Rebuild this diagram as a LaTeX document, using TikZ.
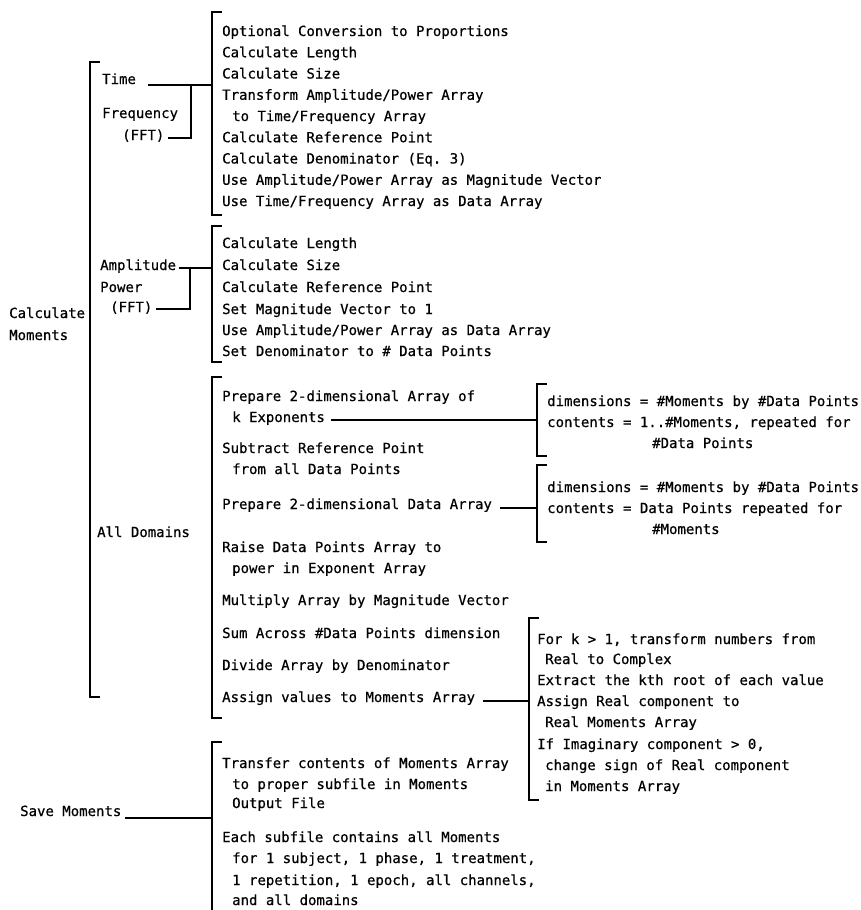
\documentclass[tikz,border=0pt]{standalone}
\usepackage{fontspec}
\setmonofont{DejaVu Sans Mono}[FakeBold=0.6]
\begin{document}
\begin{tikzpicture}[x=1pt,y=-1pt,
  txt/.style={anchor=base west, inner sep=0pt, font=\ttfamily\fontsize{14}{16}\selectfont},
  ln/.style={line width=1.1pt, line cap=rect}]
\useasboundingbox (0,0) rectangle (860,910);
\newcommand\mybrk[4]{\draw[ln] ({#1+#4},#2) -- (#1,#2) -- (#1,#3) -- ({#1+#4},#3);}
% brackets
\mybrk{90}{62}{697}{9}
\mybrk{212}{12}{215}{9}
\mybrk{212}{226}{362}{9}
\mybrk{212}{377}{718}{9}
\mybrk{537}{384}{456}{9}
\mybrk{537}{465}{542}{9}
\mybrk{529}{618}{800}{9}
\mybrk{212}{742}{915}{9}
% left labels
\node[txt] (calc) at (9,318) {Calculate};
\node[txt] (mom) at (9,340) {Moments};
\node[txt] (time) at (102,84) {Time};
\node[txt] (freq) at (102,118) {Frequency};
\node[txt] (fft1) at (122,140) {(FFT)};
\node[txt] (amp) at (100,270) {Amplitude};
\node[txt] (pow) at (100,292) {Power};
\node[txt] (fft2) at (110,312) {(FFT)};
\node[txt] (alld) at (97,537) {All Domains};
\node[txt] (save) at (20,816) {Save Moments};
% group 1
\node[txt] (a1) at (222,36) {Optional Conversion to Proportions};
\node[txt] (a2) at (222,57.25) {Calculate Length};
\node[txt] (a3) at (222,78.5) {Calculate Size};
\node[txt] (a4) at (222,99.75) {Transform Amplitude/Power Array};
\node[txt] (a5) at (232,121) {to Time/Frequency Array};
\node[txt] (a6) at (222,142.25) {Calculate Reference Point};
\node[txt] (a7) at (222,163.5) {Calculate Denominator (Eq. 3)};
\node[txt] (a8) at (222,184.75) {Use Amplitude/Power Array as Magnitude Vector};
\node[txt] (a9) at (222,206) {Use Time/Frequency Array as Data Array};
% group 2
\node[txt] (b1) at (222,248) {Calculate Length};
\node[txt] (b2) at (222,270) {Calculate Size};
\node[txt] (b3) at (222,292) {Calculate Reference Point};
\node[txt] (b4) at (222,314) {Set Magnitude Vector to 1};
\node[txt] (b5) at (222,335) {Use Amplitude/Power Array as Data Array};
\node[txt] (b6) at (222,356) {Set Denominator to \# Data Points};
% group 3
\node[txt] (c1) at (222,401) {Prepare 2-dimensional Array of};
\node[txt] (c2) at (232,422) {k Exponents};
\node[txt] (c3) at (222,453) {Subtract Reference Point};
\node[txt] (c4) at (232,474) {from all Data Points};
\node[txt] (c5) at (222,509) {Prepare 2-dimensional Data Array};
\node[txt] (c6) at (222,552) {Raise Data Points Array to};
\node[txt] (c7) at (232,573) {power in Exponent Array};
\node[txt] (c8) at (222,605) {Multiply Array by Magnitude Vector};
\node[txt] (c9) at (222,638) {Sum Across \#Data Points dimension};
\node[txt] (c10) at (222,670) {Divide Array by Denominator};
\node[txt] (c11) at (222,702) {Assign values to Moments Array};
% bracket A
\node[txt] (d1) at (547,406) {dimensions = \#Moments by \#Data Points};
\node[txt] (d2) at (547,427) {contents = 1..\#Moments, repeated for};
\node[txt] (d3) at (652,448) {\#Data Points};
% bracket B
\node[txt] (e1) at (547,492) {dimensions = \#Moments by \#Data Points};
\node[txt] (e2) at (547,513) {contents = Data Points repeated for};
\node[txt] (e3) at (652,534) {\#Moments};
% bracket C
\node[txt] (f1) at (537,644) {For k > 1, transform numbers from};
\node[txt] (f2) at (545,664) {Real to Complex};
\node[txt] (f3) at (537,685) {Extract the kth root of each value};
\node[txt] (f4) at (537,706) {Assign Real component to};
\node[txt] (f5) at (545,727) {Real Moments Array};
\node[txt] (f6) at (537,749) {If Imaginary component > 0,};
\node[txt] (f7) at (545,770) {change sign of Real component};
\node[txt] (f8) at (545,791) {in Moments Array};
% bracket D
\node[txt] (g1) at (222,768) {Transfer contents of Moments Array};
\node[txt] (g2) at (232,789) {to proper subfile in Moments};
\node[txt] (g3) at (232,808) {Output File};
\node[txt] (g4) at (222,842) {Each subfile contains all Moments};
\node[txt] (g5) at (232,863) {for 1 subject, 1 phase, 1 treatment,};
\node[txt] (g6) at (232,885) {1 repetition, 1 epoch, all channels,};
\node[txt] (g7) at (232,905) {and all domains};
% junction coordinates
\coordinate (j1) at (191,85);
\coordinate (j1b) at (191,138);
\coordinate (br1) at (212,85);
\coordinate (j2) at (190,268);
\coordinate (j2b) at (190,309);
\coordinate (br2) at (212,268);
\coordinate (brA) at (537,420);
\coordinate (brB) at (537,508);
\coordinate (brC) at (529,701);
\coordinate (brD) at (212,818);
% connectors
\draw[ln] ([xshift=12pt,yshift=-1pt]time.base east) -- (j1) -- (br1);
\draw[ln] ([xshift=4pt]fft1.base east |- j1b) -- (j1b) -- (j1);
\draw[ln] ([xshift=3pt]amp.base east |- j2) -- (j2) -- (br2);
\draw[ln] ([xshift=4pt]fft2.base east |- j2b) -- (j2b) -- (j2);
\draw[ln] ([xshift=6pt]c2.base east |- brA) -- (brA);
\draw[ln] ([xshift=8pt]c5.base east |- brB) -- (brB);
\draw[ln] ([xshift=8pt]c11.base east |- brC) -- (brC);
\draw[ln] ([xshift=4pt]save.base east |- brD) -- (brD);
\end{tikzpicture}
\end{document}
